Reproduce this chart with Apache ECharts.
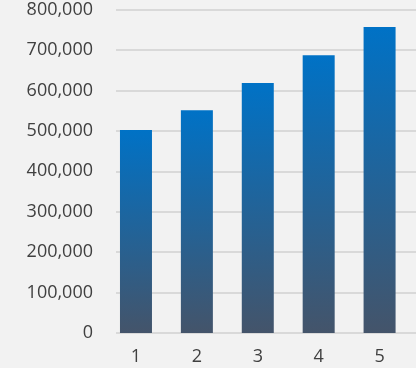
<!DOCTYPE html>
<html>
<head>
<meta charset="utf-8">
<script src="https://cdn.jsdelivr.net/npm/echarts@6/dist/echarts.min.js"></script>
<style>
html,body{margin:0;padding:0;background:#f2f2f2;}
#c{width:416px;height:368px;}
</style>
</head>
<body>
<div id="c"></div>
<script>
const categories = [1, 2, 3, 4, 5];
const values = [502000, 551000, 618000, 687000, 757000];
const yTicks = [0, 100000, 200000, 300000, 400000, 500000, 600000, 700000, 800000];

const chart = echarts.init(document.getElementById('c'), null, {renderer: 'canvas'});
const fmt = v => v.toLocaleString('en-US');
chart.setOption({
  backgroundColor: '#f2f2f2',
  animation: false,
  grid: {left: 116, right: 0, top: 9.5, bottom: 35},
  xAxis: {
    type: 'value',
    min: 0.672,
    max: 5.598,
    splitLine: {show: false},
    axisLine: {show: false},
    axisTick: {show: false},
    axisLabel: {
      customValues: categories,
      color: '#404040',
      fontFamily: 'Open Sans',
      fontSize: 18,
      margin: 15
    }
  },
  yAxis: {
    type: 'value',
    min: yTicks[0],
    max: yTicks[yTicks.length - 1],
    interval: 100000,
    axisLine: {show: false},
    axisTick: {show: false},
    splitLine: {lineStyle: {color: '#d9d9d9', width: 2}},
    axisLabel: {
      formatter: fmt,
      color: '#404040',
      fontFamily: 'Open Sans',
      fontSize: 18,
      margin: 23,
      padding: [4, 0, 0, 0]
    }
  },
  series: [{
    type: 'bar',
    barWidth: 32,
    data: categories.map((c, i) => [c, values[i]]),
    itemStyle: {
      color: new echarts.graphic.LinearGradient(0, 0, 0, 1, [
        {offset: 0, color: '#0072c6'},
        {offset: 1, color: '#44546a'}
      ])
    }
  }]
});
</script>
</body>
</html>
